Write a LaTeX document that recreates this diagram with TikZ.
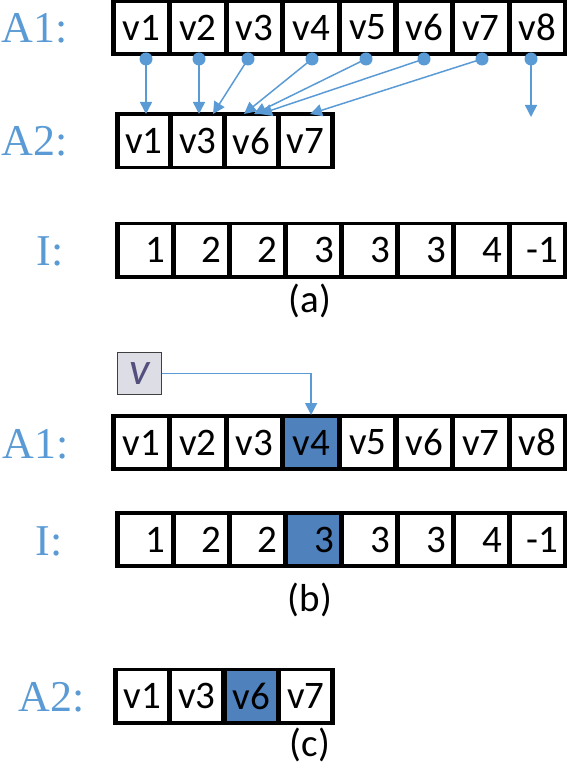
\documentclass[tikz,border=0pt]{standalone}
\usepackage{fontspec}
\setmainfont{Carlito}
\newfontfamily\labfont{Liberation Serif}
\usetikzlibrary{arrows.meta}
\definecolor{lblue}{RGB}{91,155,213}
\definecolor{hblue}{RGB}{79,129,189}
\definecolor{vfill}{RGB}{221,221,229}
\definecolor{vtext}{RGB}{84,80,126}
\begin{document}
\begin{tikzpicture}[x=1pt,y=-1pt,
  cell/.style={draw=black, line width=2.6pt, minimum width=#1, minimum height=52.4pt,
    inner sep=0pt, fill=white, font=\fontsize{39}{39}\selectfont},
  frame/.style={draw=black, line width=3.4pt},
  lab/.style={anchor=base east, text=lblue, inner sep=0pt, font=\labfont\fontsize{44}{44}\selectfont},
  captext/.style={inner sep=0pt, font=\fontsize{39}{39}\selectfont},
  conn/.style={draw=lblue, line width=1.5pt, -{Triangle[length=12pt,width=12pt]}},
  dot/.style={fill=lblue},
  hl/.style={fill=hblue},
  nohl/.style={}]
\useasboundingbox (0,0) rectangle (566,770);

% ---------- (a) ----------
\node[lab] (lA1) at (68,43) {A1:};
\foreach \t [count=\i] in {v1,v2,v3,v4,v5,v6,v7,v8}
  \node[cell=54pt] (aA\i) at ({113+56.6*(\i-0.5)},27.5) {\t};
\draw[frame] ([shift={(-0.7pt,-0.7pt)}]aA1.north west) rectangle ([shift={(0.7pt,0.7pt)}]aA8.south east);

\node[lab] (lA2) at (68,156) {A2:};
\foreach \t [count=\i] in {v1,v3,v6,v7}
  \node[cell=51.2pt] (aB\i) at ({117+53.8*(\i-0.5)},141) {\t};
\draw[frame] ([shift={(-0.7pt,-0.7pt)}]aB1.north west) rectangle ([shift={(0.7pt,0.7pt)}]aB4.south east);

\node[lab] (lI) at (64,265) {I:};
\foreach \t [count=\i] in {1,2,2,3,3,3,4,-1}
  \node[cell=53.5pt] (aI\i) at ({117+56.1*(\i-0.5)},250) {\makebox[41pt][r]{\t}};
\draw[frame] ([shift={(-0.7pt,-0.7pt)}]aI1.north west) rectangle ([shift={(0.7pt,0.7pt)}]aI8.south east);

\node[captext] (capa) at (310,301) {(a)};

% source dots
\foreach \x [count=\i] in {146,199,248,312,366,424,482,531}
  \coordinate (s\i) at (\x,59);
\coordinate (t1) at (146,114);
\coordinate (t2) at (199,114);
\coordinate (t3) at (213,114);
\coordinate (t4) at (244,114);
\coordinate (t5) at (254,114);
\coordinate (t6) at (260,114);
\coordinate (t7) at (310,114);
\coordinate (t8) at (531,117);
\foreach \i in {1,...,8} {
  \draw[conn] (s\i) -- (t\i);
  \fill[dot] (s\i) circle (6.5pt);
}

% ---------- (b) ----------
\node[draw=black!75, line width=1.4pt, fill=vfill, minimum width=43.5pt, minimum height=41.5pt,
  inner sep=0pt, text=vtext, font=\fontsize{46}{46}\selectfont\itshape] (vbox) at (139.5,373.5) {v};

\node[lab] (lA1b) at (69,458) {A1:};
\foreach \t/\s [count=\i] in {v1/nohl,v2/nohl,v3/nohl,v4/hl,v5/nohl,v6/nohl,v7/nohl,v8/nohl}
  \node[cell=54pt, \s] (bA\i) at ({113+56.6*(\i-0.5)},442.5) {\t};
\draw[frame] ([shift={(-0.7pt,-0.7pt)}]bA1.north west) rectangle ([shift={(0.7pt,0.7pt)}]bA8.south east);

\draw[conn] (vbox.east) -| (bA4.north);

\node[lab] (lIb) at (63,555) {I:};
\foreach \t/\s [count=\i] in {1/nohl,2/nohl,2/nohl,3/hl,3/nohl,3/nohl,4/nohl,-1/nohl}
  \node[cell=53.5pt, \s] (bI\i) at ({117+56.1*(\i-0.5)},539.5) {\makebox[41pt][r]{\t}};
\draw[frame] ([shift={(-0.7pt,-0.7pt)}]bI1.north west) rectangle ([shift={(0.7pt,0.7pt)}]bI8.south east);

\node[captext] (capb) at (310,600) {(b)};

% ---------- (c) ----------
\node[lab] (lA2c) at (85,711) {A2:};
\foreach \t/\s [count=\i] in {v1/nohl,v3/nohl,v6/hl,v7/nohl}
  \node[cell=51.9pt, \s] (cA\i) at ({115+54.5*(\i-0.5)},696) {\t};
\draw[frame] ([shift={(-0.7pt,-0.7pt)}]cA1.north west) rectangle ([shift={(0.7pt,0.7pt)}]cA4.south east);

\node[captext] (capc) at (310,745) {(c)};
\end{tikzpicture}
\end{document}
